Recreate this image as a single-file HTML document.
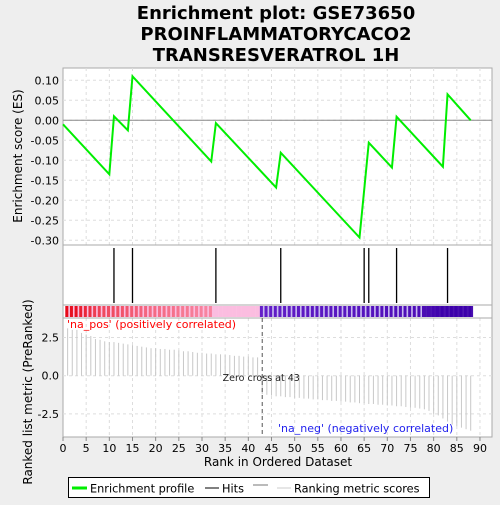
<!DOCTYPE html>
<html><head><meta charset="utf-8"><style>
body{margin:0;background:#eeeeee;font-family:"Liberation Sans","DejaVu Sans",sans-serif}
svg text{font-family:"DejaVu Sans","Liberation Sans",sans-serif}
</style></head><body>
<svg id="c" width="500" height="500" xmlns="http://www.w3.org/2000/svg">
<rect width="500" height="500" fill="#eeeeee"/>
<text x="276" y="19" text-anchor="middle" font-size="18" font-weight="bold">Enrichment plot: GSE73650</text>
<text x="276" y="40" text-anchor="middle" font-size="18" font-weight="bold">PROINFLAMMATORYCACO2</text>
<text x="276" y="61" text-anchor="middle" font-size="18" font-weight="bold">TRANSRESVERATROL 1H</text>
<g id="plot"></g>
</svg>
<script>
const esRanks=[0,10,11,14,15,32,33,46,47,64,65,66,71,72,82,83,88];
const esValues=[-0.01,-0.135,0.01,-0.025,0.11,-0.103,-0.007,-0.168,-0.081,-0.293,-0.175,-0.056,-0.118,0.009,-0.116,0.065,0.0];
const hitRanks=[11,15,33,47,65,66,72,83];
const metricValues=[3.1,3.0,3.0,2.8,2.7,2.6,2.4,2.35,2.25,2.2,2.2,2.15,2.1,2.05,2.0,1.95,1.9,1.85,1.8,1.8,1.75,1.75,1.7,1.7,1.65,1.6,1.6,1.55,1.5,1.5,1.45,1.45,1.4,1.4,1.35,1.35,1.3,1.3,1.25,1.25,1.2,1.2,
-1.2,-1.25,-1.3,-1.35,-1.35,-1.4,-1.4,-1.45,-1.45,-1.5,-1.5,-1.55,-1.55,-1.6,-1.6,-1.65,-1.65,-1.7,-1.7,-1.75,-1.75,-1.8,-1.8,-1.85,-1.85,-1.9,-1.9,-1.95,-1.95,-2.0,-2.0,-2.05,-2.1,-2.1,-2.15,-2.2,-2.3,-2.5,-2.6,-2.8,-3.0,-3.2,-3.3,-3.4,-3.5,-3.6];
const xTicks=[0,5,10,15,20,25,30,35,40,45,50,55,60,65,70,75,80,85,90];
const esTicks=[0.10,0.05,0.00,-0.05,-0.10,-0.15,-0.20,-0.25,-0.30];
const metricTicks=[2.5,0.0,-2.5];
const zeroCross=43;

const NS="http://www.w3.org/2000/svg";
const g=document.getElementById('plot');
function el(t,a,p){const e=document.createElementNS(NS,t);for(const k in a)e.setAttribute(k,a[k]);(p||g).appendChild(e);return e;}
const L=63,R=492;
const X=r=>L+r*4.633;
const YE=v=>120.3-v*400;
const YM=v=>375.7-v*15.28;
const T1=68,B1=245,B2=305,B3=318,B4=437;

let e;
e=el('rect',{x:L,y:T1,width:R-L,height:B4-T1,fill:'#fff',stroke:'#aaa'});


xTicks.forEach(t=>{
 if(t===0)return;
 e=el('line',{x1:X(t),x2:X(t),y1:T1,y2:B1,stroke:'#ddd','stroke-dasharray':'3,3'});
 
 
 e=el('line',{x1:X(t),x2:X(t),y1:B3,y2:B4,stroke:'#ddd','stroke-dasharray':'3,3'});
 
 
});
esTicks.forEach(t=>{
 e=el('line',{x1:L,x2:R,y1:YE(t),y2:YE(t),stroke:'#ddd','stroke-dasharray':'3,3'});
 
 
 e=el('text',{x:L-4,y:YE(t)+4,'text-anchor':'end','font-size':11});
 e.textContent=t.toFixed(2);
 
 
});
metricTicks.forEach(t=>{
 e=el('line',{x1:L,x2:R,y1:YM(t),y2:YM(t),stroke:'#ddd','stroke-dasharray':'3,3'});
 
 
 e=el('text',{x:L-4,y:YM(t)+4,'text-anchor':'end','font-size':11});
 e.textContent=t.toFixed(1);
 
 
});
e=el('line',{x1:L,x2:R,y1:YE(0),y2:YE(0),stroke:'#888'});


[B1,B2,B3].forEach(y=>{e=el('line',{x1:L,x2:R,y1:y,y2:y,stroke:'#aaa'});
 
 });
e=el('polyline',{points:esRanks.map((r,i)=>X(r)+','+YE(esValues[i])).join(' '),fill:'none',stroke:'#00ee00','stroke-width':2});


hitRanks.forEach(r=>{e=el('line',{x1:X(r),x2:X(r),y1:B1+3,y2:B2-2,stroke:'#000','stroke-width':1.3});
 
 });
// color band
metricValues.forEach((v,i)=>{
 const r=i+1;let c,lc;
 if(v>0){const f=Math.min(1,(v-1.2)/1.9);c=`rgb(${Math.round(250-20*f)},${Math.round(150-140*f)},${Math.round(180-155*f)})`;lc='#fbbde0';
  if(r>32){c='#fbbde0';}}
 else{const f=Math.min(1,(-v-1.2)/1.6);c=`rgb(${Math.round(100-40*f)},${Math.round(30-30*f)},${Math.round(200-30*f)})`;lc=f>0.6?'#4a10b0':'#c8b8f0';}
 e=el('rect',{x:X(r-0.5),y:B2+1,width:4.7,height:B3-B2-2,fill:lc});
 
 
 e=el('rect',{x:X(r-0.5),y:B2+1,width:3,height:B3-B2-2,fill:c});
 
 
});
metricValues.forEach((v,i)=>{
 e=el('line',{x1:X(i+1),x2:X(i+1),y1:YM(0),y2:YM(v),stroke:'#c8c8c8'});
 
 
});
e=el('line',{x1:X(zeroCross),x2:X(zeroCross),y1:B3,y2:B4,stroke:'#555','stroke-dasharray':'4,3'});


e=el('text',{x:X(zeroCross)-1,y:381,'text-anchor':'middle','font-size':9.5,fill:'#222'});
e.textContent='Zero cross at '+zeroCross;


e=el('text',{x:67,y:328,'font-size':11,fill:'#ff0000'});
e.textContent="'na_pos' (positively correlated)";


e=el('text',{x:278,y:432,'font-size':11,fill:'#2222ee'});
e.textContent="'na_neg' (negatively correlated)";


xTicks.forEach(t=>{
 e=el('line',{x1:X(t),x2:X(t),y1:B4,y2:B4+4,stroke:'#888'});
 
 
 e=el('text',{x:X(t),y:B4+15,'text-anchor':'middle','font-size':11});
 e.textContent=t;
 
 
});
e=el('text',{x:278,y:466,'text-anchor':'middle','font-size':12});
e.textContent='Rank in Ordered Dataset';


e=el('text',{x:22,y:156,'text-anchor':'middle','font-size':12,transform:'rotate(-90 22 156)'});
e.textContent='Enrichment score (ES)';


e=el('text',{x:32,y:392,'text-anchor':'middle','font-size':12,transform:'rotate(-90 32 392)'});
e.textContent='Ranked list metric (PreRanked)';


const lg=el('g',{});


el('rect',{x:68.5,y:477.5,width:361,height:20,fill:'#fff',stroke:'#000'},lg);
el('line',{x1:72,x2:87,y1:488,y2:488,stroke:'#00ee00','stroke-width':3},lg);
e=el('text',{x:90,y:492.5,'font-size':11.3},lg);e.textContent='Enrichment profile';


el('line',{x1:205,x2:219,y1:488,y2:488,stroke:'#000'},lg);
e=el('text',{x:222,y:492.5,'font-size':11.3},lg);e.textContent='Hits';


el('line',{x1:253,x2:268,y1:485,y2:485,stroke:'#777'},lg);
el('line',{x1:277,x2:291,y1:488,y2:488,stroke:'#ccc'},lg);
e=el('text',{x:294,y:492.5,'font-size':11.3},lg);e.textContent='Ranking metric scores';


</script>
</body></html>
